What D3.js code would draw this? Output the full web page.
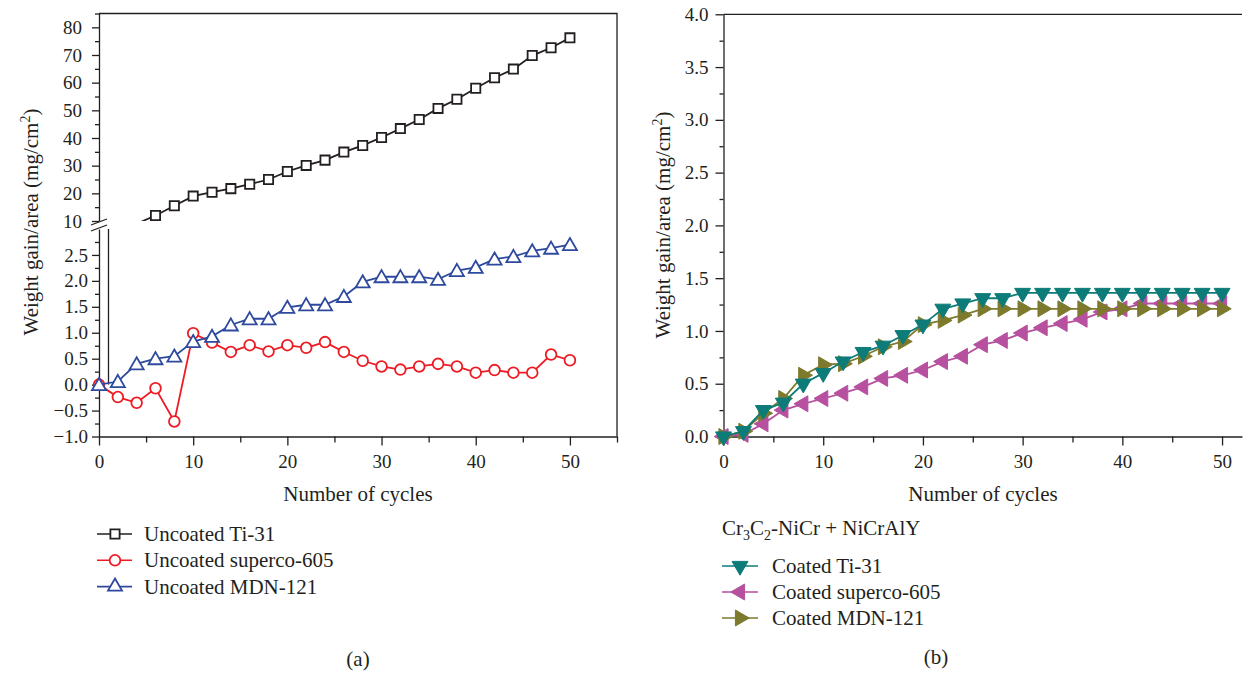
<!DOCTYPE html>
<html>
<head>
<meta charset="utf-8">
<script src="https://cdn.jsdelivr.net/npm/d3@7"></script>
<style>
  body { margin: 0; background: #fff; }
  svg, svg text { font-family: "Liberation Serif", "Times New Roman", "DejaVu Serif", serif; fill: #231f20; }
  .axis path, .axis line { stroke: #231f20; stroke-width: 1.3; }
  .axis text { font-size: 19px; font-family: "Liberation Serif", "DejaVu Serif", serif; }
</style>
</head>
<body>
<div id="chart"></div>
<script>
// cycles (same for every series)
var cycles = d3.range(0, 51, 2);
var cyclesTi31 = d3.range(4, 51, 2);

// (a) uncoated
var uncoatedTi31 = [9, 12, 15.5, 19, 20.4, 21.7, 23.3, 25, 27.9, 30.1, 32, 34.9, 37.3, 40.2, 43.4, 46.7, 50.7, 54, 58, 61.8, 64.9, 69.8, 72.6, 76.2];
var uncoatedSuperco = [0, -0.24, -0.35, -0.07, -0.71, 0.99, 0.81, 0.63, 0.76, 0.64, 0.76, 0.71, 0.82, 0.63, 0.46, 0.35, 0.29, 0.35, 0.4, 0.35, 0.23, 0.28, 0.23, 0.23, 0.58, 0.47];
var uncoatedMDN = [0, 0.06, 0.4, 0.5, 0.55, 0.83, 0.93, 1.15, 1.27, 1.27, 1.49, 1.54, 1.54, 1.7, 1.98, 2.08, 2.08, 2.08, 2.03, 2.2, 2.26, 2.42, 2.47, 2.58, 2.63, 2.7];

// (b) Cr3C2-NiCr + NiCrAlY coated
var coatedTi31 = [0, 0.05, 0.25, 0.32, 0.5, 0.6, 0.71, 0.8, 0.86, 0.96, 1.06, 1.21, 1.26, 1.31, 1.31, 1.36, 1.36, 1.36, 1.36, 1.36, 1.36, 1.36, 1.36, 1.36, 1.36, 1.36];
var coatedSuperco = [0, 0.02, 0.12, 0.25, 0.31, 0.36, 0.41, 0.47, 0.55, 0.58, 0.63, 0.71, 0.76, 0.87, 0.91, 0.98, 1.03, 1.07, 1.11, 1.18, 1.21, 1.26, 1.26, 1.26, 1.26, 1.26];
var coatedMDN = [0, 0.05, 0.22, 0.36, 0.58, 0.68, 0.69, 0.76, 0.85, 0.9, 1.06, 1.1, 1.15, 1.21, 1.21, 1.21, 1.21, 1.21, 1.21, 1.21, 1.21, 1.21, 1.21, 1.21, 1.21, 1.21];

var xMajor = [0, 10, 20, 30, 40, 50];
var legendA = ["Uncoated Ti-31", "Uncoated superco-605", "Uncoated MDN-121"];
var legendB = ["Coated Ti-31", "Coated superco-605", "Coated MDN-121"];

var FS = "21px";

var svg = d3.select("#chart").append("svg")
  .attr("width", 1243)
  .attr("height", 673);

var fmt1 = function(d){ return d3.format(".1f")(d).replace("-", "\u2212"); };

function styleAxis(g){
  g.attr("font-family", null).attr("font-size", null);
  g.selectAll("text").attr("fill", "#231f20");
}

function minorAxis(axis, g, ticks, size){
  g.append("g").attr("class", "axis")
    .call(axis.tickValues(ticks).tickSize(size).tickSizeOuter(0).tickFormat(""))
    .select(".domain").remove();
}

function yLabel(x, y){
  var t = svg.append("text")
    .attr("transform", "translate(" + x + "," + y + ")rotate(-90)")
    .attr("text-anchor", "middle")
    .style("font-size", FS)
    .text("Weight gain/area (mg/cm");
  t.append("tspan").attr("dy", -8).style("font-size", "14px").text("2");
  t.append("tspan").attr("dy", 8).text(")");
}

// ---------- (a) ----------
var xa = d3.scaleLinear().domain([0, 55]).range([99, 617]);
var yUp = d3.scaleLinear().domain([10, 85]).range([221, 13.5]);
var yLo = d3.scaleLinear().domain([-1, 3]).range([436.5, 229]);

var ga = svg.append("g");

// bottom axis
ga.append("g").attr("class", "axis")
  .attr("transform", "translate(0," + yLo(-1) + ")")
  .call(d3.axisBottom(xa).tickValues(xMajor).tickSize(9).tickSizeOuter(0).tickPadding(9))
  .call(styleAxis);
minorAxis(d3.axisBottom(xa), ga.append("g").attr("transform", "translate(0," + yLo(-1) + ")"), [5, 15, 25, 35, 45, 55], 6);

// left axis, upper part
ga.append("g").attr("class", "axis")
  .attr("transform", "translate(99,0)")
  .call(d3.axisLeft(yUp).tickValues(d3.range(10, 81, 10)).tickSize(7).tickSizeOuter(0).tickPadding(10))
  .call(styleAxis);
minorAxis(d3.axisLeft(yUp), ga.append("g").attr("transform", "translate(99,0)"), d3.range(15, 86, 10), 4);

// left axis, lower part
ga.append("g").attr("class", "axis")
  .attr("transform", "translate(99,0)")
  .call(d3.axisLeft(yLo).tickValues(d3.range(-1, 2.51, 0.5)).tickSize(7).tickSizeOuter(0).tickPadding(4).tickFormat(fmt1))
  .call(styleAxis);
minorAxis(d3.axisLeft(yLo), ga.append("g").attr("transform", "translate(99,0)"), d3.range(-0.75, 2.8, 0.5), 4);

// break marks
[0, 6].forEach(function(o){
  ga.append("line")
    .attr("x1", 91).attr("y1", 225 + o)
    .attr("x2", 107).attr("y2", 219 + o)
    .attr("stroke", "#231f20").attr("stroke-width", 1.3);
});
ga.append("line")
  .attr("x1", 108.5).attr("y1", yLo(3))
  .attr("x2", 108.5).attr("y2", yLo(0))
  .attr("stroke", "#231f20").attr("stroke-width", 1.3);

// frame
ga.append("path")
  .attr("d", "M99," + yUp(85) + "H617V" + yLo(-1))
  .attr("fill", "none").attr("stroke", "#231f20").attr("stroke-width", 1.3);

// clip for broken segment
var defs = svg.append("defs");
defs.append("clipPath").attr("id", "clipUp").append("rect")
  .attr("x", 99).attr("y", yUp(85)).attr("width", 518).attr("height", yUp(10) - yUp(85));

var lineUp = d3.line().x(function(d){ return xa(d[0]); }).y(function(d){ return yUp(d[1]); });
var lineLo = d3.line().x(function(d){ return xa(d[0]); }).y(function(d){ return yLo(d[1]); });

var sq = d3.symbol().type(d3.symbolSquare).size(85);
var circ = d3.symbol().type(d3.symbolCircle).size(90);
var tri = d3.symbol().type(d3.symbolTriangle).size(85);

function series(g, line, xs, ys, color, sym, filled, clip, minVal){
  var data = xs.map(function(x, i){ return [x, ys[i]]; });
  var s = g.append("g");
  if (clip) s.attr("clip-path", "url(#" + clip + ")");
  s.append("path").attr("d", line(data))
    .attr("fill", "none").attr("stroke", color).attr("stroke-width", 1.8);
  s.selectAll("path.m")
    .data(data.filter(function(d){ return minVal === undefined || d[1] >= minVal; }))
    .enter().append("path")
    .attr("class", "m")
    .attr("transform", function(d){ return "translate(" + line.x()(d) + "," + line.y()(d) + ")" + (sym.rot || ""); })
    .attr("d", sym.gen)
    .attr("fill", filled ? color : "#fff")
    .attr("stroke", color)
    .attr("stroke-width", filled ? 1 : 1.8);
  return s;
}

series(ga, lineUp, cyclesTi31, uncoatedTi31, "#231f20", {gen: sq}, false, "clipUp", 10);
series(ga, lineLo, cycles, uncoatedSuperco, "#ed1c24", {gen: circ}, false);
series(ga, lineLo, cycles, uncoatedMDN, "#2e4a9e", {gen: tri, rot: "translate(0,1.5)"}, false);

yLabel(38, 222);
svg.append("text").attr("x", 358).attr("y", 501).attr("text-anchor", "middle")
  .style("font-size", FS).text("Number of cycles");

// legend (a)
var legA = [{c: "#231f20", s: sq}, {c: "#ed1c24", s: circ}, {c: "#2e4a9e", s: tri}];
legA.forEach(function(l, i){
  var y = 534 + i * 26.3;
  svg.append("line").attr("x1", 97).attr("x2", 132).attr("y1", y).attr("y2", y)
    .attr("stroke", l.c).attr("stroke-width", 1.6);
  svg.append("path").attr("transform", "translate(115," + y + ")").attr("d", l.s)
    .attr("fill", "#fff").attr("stroke", l.c).attr("stroke-width", 1.8);
  svg.append("text").attr("x", 144).attr("y", y + 7).style("font-size", FS).text(legendA[i]);
});
svg.append("text").attr("x", 358).attr("y", 666).attr("text-anchor", "middle")
  .style("font-size", FS).text("(a)");

// ---------- (b) ----------
var xb = d3.scaleLinear().domain([0, 52]).range([723.5, 1242]);
var yb = d3.scaleLinear().domain([0, 4]).range([436.5, 14.3]);
var gb = svg.append("g");

gb.append("g").attr("class", "axis")
  .attr("transform", "translate(0," + yb(0) + ")")
  .call(d3.axisBottom(xb).tickValues(xMajor).tickSize(9).tickSizeOuter(0).tickPadding(9))
  .call(styleAxis);
minorAxis(d3.axisBottom(xb), gb.append("g").attr("transform", "translate(0," + yb(0) + ")"), [5, 15, 25, 35, 45], 6);

gb.append("g").attr("class", "axis")
  .attr("transform", "translate(723.5,0)")
  .call(d3.axisLeft(yb).tickValues(d3.range(0, 4.01, 0.5)).tickSize(8).tickSizeOuter(0).tickPadding(7).tickFormat(fmt1))
  .call(styleAxis);
minorAxis(d3.axisLeft(yb), gb.append("g").attr("transform", "translate(723.5,0)"), d3.range(0.25, 4, 0.5), 4);

gb.append("line").attr("x1", 723.5).attr("x2", 1242).attr("y1", yb(4)).attr("y2", yb(4))
  .attr("stroke", "#231f20").attr("stroke-width", 1.3);

var lineB = d3.line().x(function(d){ return xb(d[0]); }).y(function(d){ return yb(d[1]); });
var triB = d3.symbol().type(d3.symbolTriangle).size(110);
var down = {gen: triB, rot: "rotate(180)"};
var left = {gen: triB, rot: "rotate(-90)"};
var right = {gen: triB, rot: "rotate(90)"};

series(gb, lineB, cycles, coatedSuperco, "#b6509f", left, true);
series(gb, lineB, cycles, coatedMDN, "#7d7a2e", right, true);
series(gb, lineB, cycles, coatedTi31, "#0d7b78", down, true);

yLabel(670, 225);
svg.append("text").attr("x", 983).attr("y", 501).attr("text-anchor", "middle")
  .style("font-size", FS).text("Number of cycles");

var title = svg.append("text").attr("x", 722).attr("y", 535).style("font-size", FS);
title.append("tspan").text("Cr");
title.append("tspan").attr("dy", 5).style("font-size", "14px").text("3");
title.append("tspan").attr("dy", -5).text("C");
title.append("tspan").attr("dy", 5).style("font-size", "14px").text("2");
title.append("tspan").attr("dy", -5).text("-NiCr + NiCrAlY");

var legB = [{c: "#0d7b78", s: down}, {c: "#b6509f", s: left}, {c: "#7d7a2e", s: right}];
legB.forEach(function(l, i){
  var y = 566 + i * 26;
  svg.append("line").attr("x1", 722).attr("x2", 758).attr("y1", y).attr("y2", y)
    .attr("stroke", l.c).attr("stroke-width", 1.6);
  svg.append("path").attr("transform", "translate(740," + y + ")" + l.s.rot).attr("d", l.s.gen)
    .attr("fill", l.c).attr("stroke", l.c).attr("stroke-width", 1);
  svg.append("text").attr("x", 772).attr("y", y + 7).style("font-size", FS).text(legendB[i]);
});
svg.append("text").attr("x", 936).attr("y", 664).attr("text-anchor", "middle")
  .style("font-size", FS).text("(b)");
</script>
</body>
</html>
